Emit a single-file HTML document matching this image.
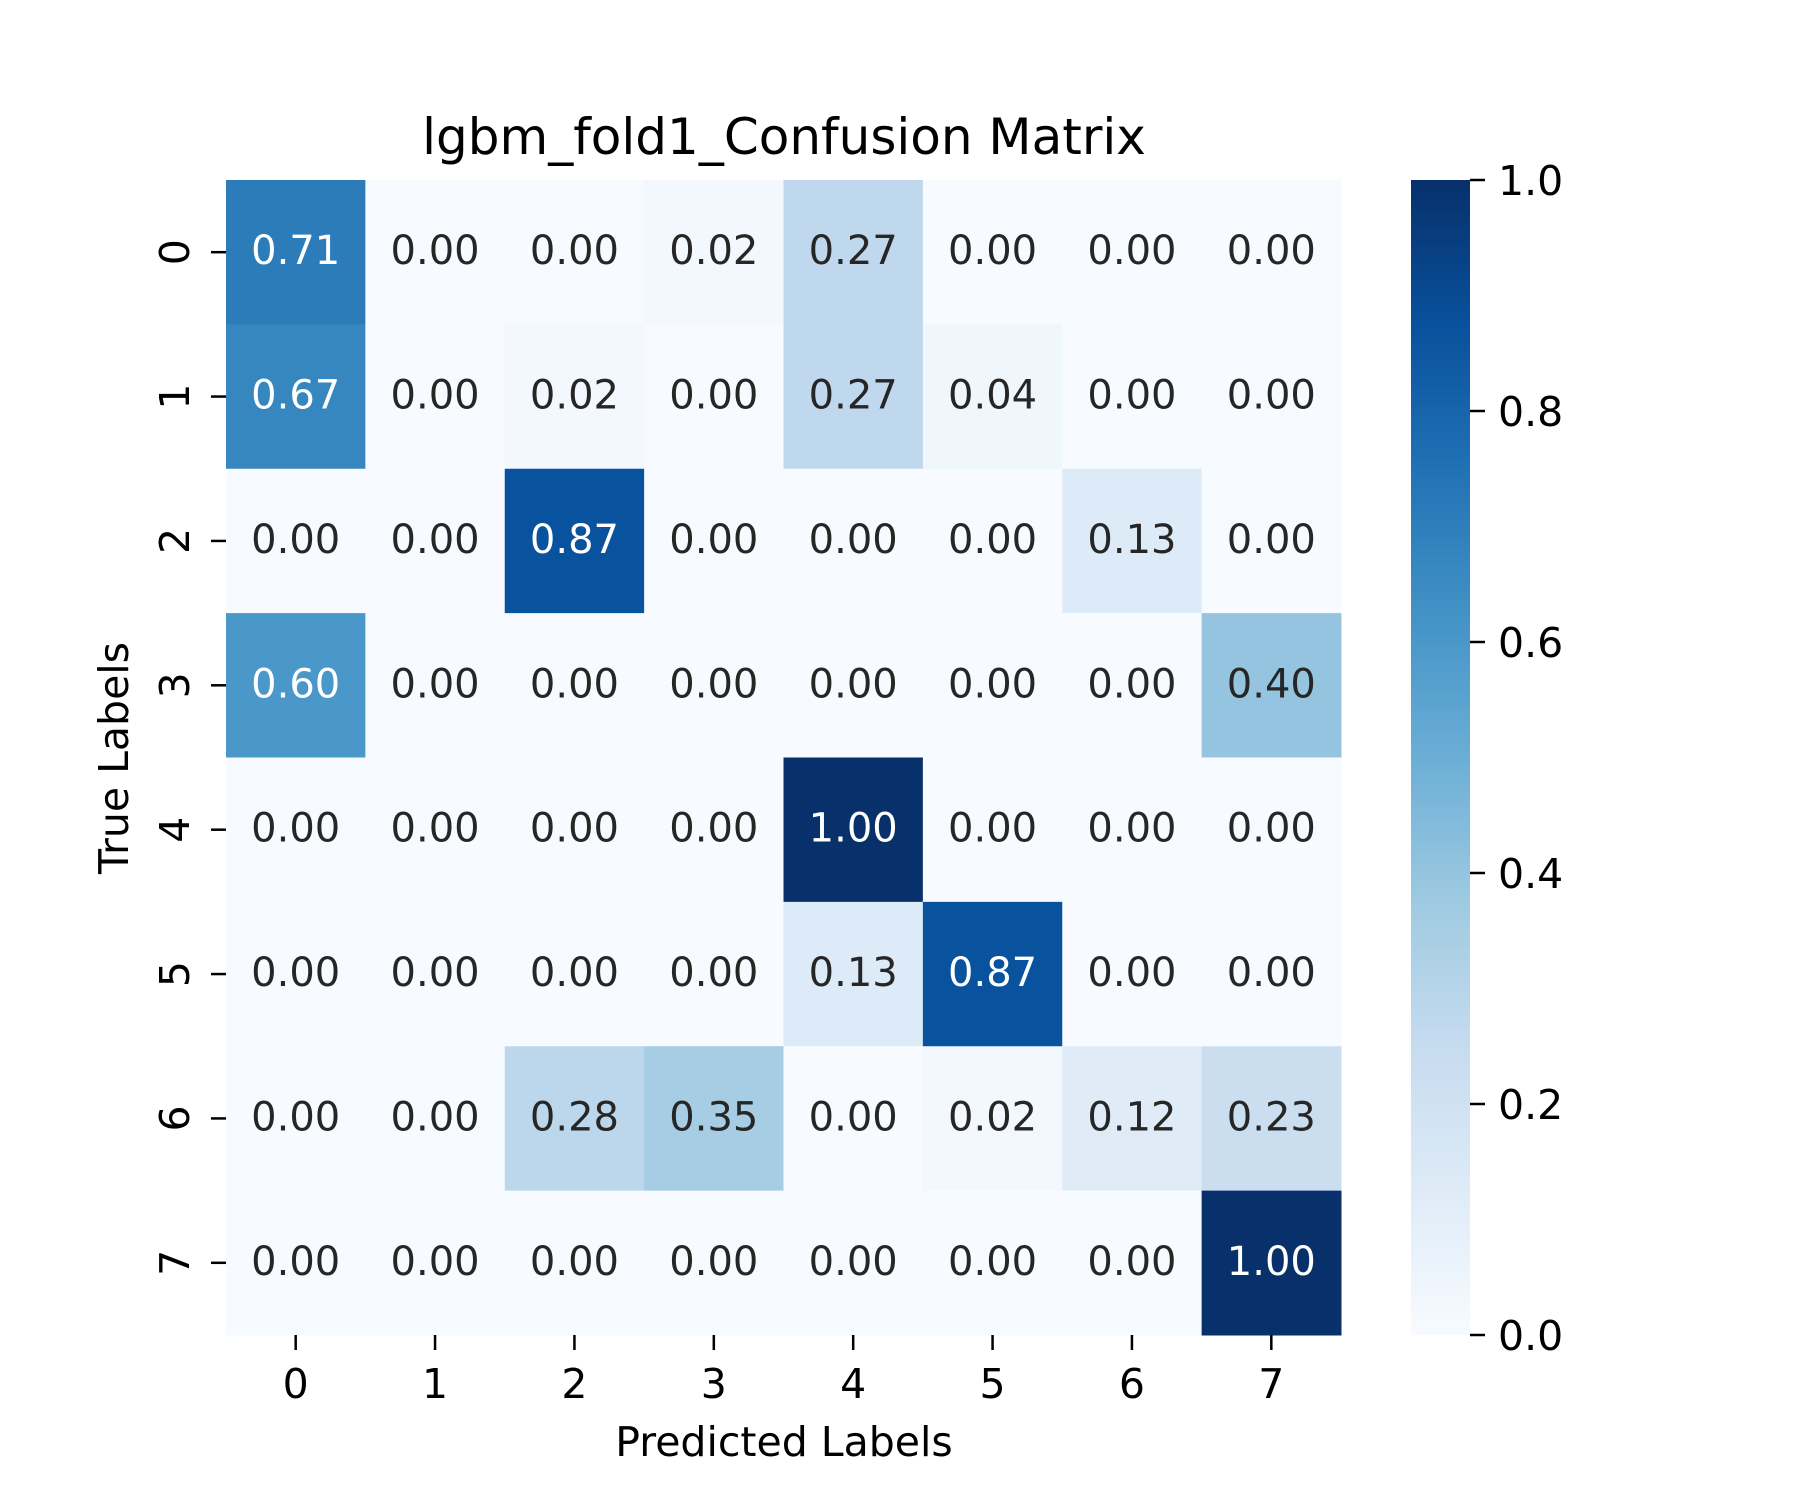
<!DOCTYPE html>
<html><head><meta charset="utf-8"><style>
html,body{margin:0;padding:0;background:#fff;}
svg{display:block;font-family:"DejaVu Sans","Liberation Sans",sans-serif;}
</style></head><body>
<svg id="chart" width="1800" height="1500" viewBox="0 0 1800 1500">
<defs><linearGradient id="cbg" x1="0" y1="1" x2="0" y2="0">
<stop offset="0" stop-color="#f7fbff"/><stop offset="0.125" stop-color="#deebf7"/><stop offset="0.25" stop-color="#c6dbef"/><stop offset="0.375" stop-color="#9ecae1"/><stop offset="0.5" stop-color="#6baed6"/><stop offset="0.625" stop-color="#4292c6"/><stop offset="0.75" stop-color="#2171b5"/><stop offset="0.875" stop-color="#08519c"/><stop offset="1" stop-color="#08306b"/></linearGradient></defs>
<text x="784" y="154" font-size="50" text-anchor="middle" fill="#000">lgbm_fold1_Confusion Matrix</text>
<g id="cells"></g>
<g id="axes"></g>
<rect x="1411" y="180" width="59" height="1155" fill="url(#cbg)"/>
<g id="cbticks"></g>
<text x="784" y="1456" font-size="41" text-anchor="middle" fill="#000">Predicted Labels</text>
<text transform="translate(128,758) rotate(-90)" font-size="41" text-anchor="middle" fill="#000">True Labels</text>
</svg>
<script>
const classes = ["0","1","2","3","4","5","6","7"];
const row0 = [0.71,0.00,0.00,0.02,0.27,0.00,0.00,0.00];
const row1 = [0.67,0.00,0.02,0.00,0.27,0.04,0.00,0.00];
const row2 = [0.00,0.00,0.87,0.00,0.00,0.00,0.13,0.00];
const row3 = [0.60,0.00,0.00,0.00,0.00,0.00,0.00,0.40];
const row4 = [0.00,0.00,0.00,0.00,1.00,0.00,0.00,0.00];
const row5 = [0.00,0.00,0.00,0.00,0.13,0.87,0.00,0.00];
const row6 = [0.00,0.00,0.28,0.35,0.00,0.02,0.12,0.23];
const row7 = [0.00,0.00,0.00,0.00,0.00,0.00,0.00,1.00];
const matrix = [row0,row1,row2,row3,row4,row5,row6,row7];
const cbTicks = [0.0,0.2,0.4,0.6,0.8,1.0];

const NS="http://www.w3.org/2000/svg";
const L=226,R=1341,T=180,B=1335;
const n=classes.length;
const cw=(R-L)/n, ch=(B-T)/n;
const xPos=i=>L+i*cw, yPos=j=>T+j*ch;
const cbY=v=>1335-v*(1335-180);
const stops=["#f7fbff","#deebf7","#c6dbef","#9ecae1","#6baed6","#4292c6","#2171b5","#08519c","#08306b"];
function hex(h){return [1,3,5].map(k=>parseInt(h.substr(k,2),16));}
function color(v){v=Math.max(0,Math.min(1,v));const p=v*8,i=Math.min(7,Math.floor(p)),f=p-i;const a=hex(stops[i]),b=hex(stops[i+1]);return "rgb("+a.map((c,k)=>Math.round(c+(b[k]-c)*f)).join(",")+")";}
function el(t,a,txt){const e=document.createElementNS(NS,t);for(const k in a)e.setAttribute(k,a[k]);if(txt!=null)e.textContent=txt;return e;}
const cells=document.getElementById('cells'),axes=document.getElementById('axes'),cb=document.getElementById('cbticks');
matrix.forEach((row,j)=>row.forEach((v,i)=>{
 const r=el('rect',{x:xPos(i),y:yPos(j),width:cw+0.5,height:ch+0.5,fill:color(v)});
 
 
 cells.appendChild(r);
 const t=el('text',{x:xPos(i)+cw/2,y:yPos(j)+ch/2+12,'font-size':40,'text-anchor':'middle',fill:v>0.5?'#ffffff':'#262626'},v.toFixed(2));
 
 
 cells.appendChild(t);
}));
classes.forEach((c,i)=>{
 const x=xPos(i)+cw/2;
 const tk=el('line',{x1:x,y1:B,x2:x,y2:B+15,stroke:'#000','stroke-width':2.5});
 
 
 axes.appendChild(tk);
 const tl=el('text',{x:x,y:1398,'font-size':41,'text-anchor':'middle',fill:'#000'},c);
 
 
 axes.appendChild(tl);
 const y=yPos(i)+ch/2;
 const ty=el('line',{x1:L-15,y1:y,x2:L,y2:y,stroke:'#000','stroke-width':2.5});
 
 
 axes.appendChild(ty);
 const yl=el('text',{transform:'translate(189,'+y+') rotate(-90)','font-size':41,'text-anchor':'middle',fill:'#000'},c);
 
 
 axes.appendChild(yl);
});
cbTicks.forEach(v=>{
 const y=cbY(v);
 const l=el('line',{x1:1470,y1:y,x2:1485,y2:y,stroke:'#000','stroke-width':2.5});
 
 
 cb.appendChild(l);
 const t=el('text',{x:1498,y:y+15,'font-size':41,fill:'#000'},v.toFixed(1));
 
 
 cb.appendChild(t);
});
</script>
</body></html>
